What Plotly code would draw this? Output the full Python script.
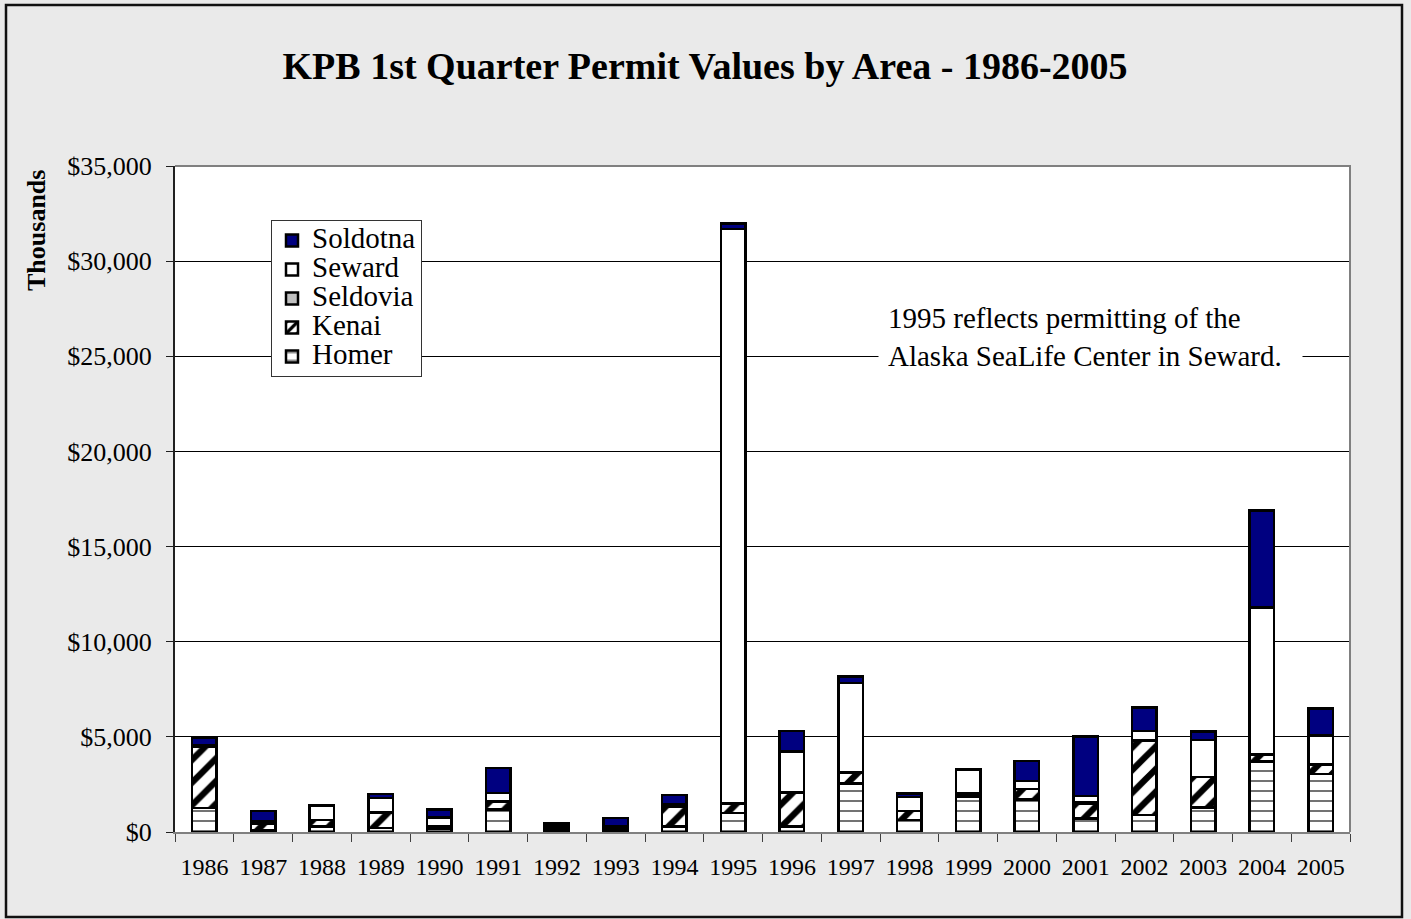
import plotly.graph_objects as go

# values in $ thousands
years = [str(y) for y in range(1986, 2006)]
homer = [1250, 100, 280, 200, 150, 1190, 100, 120, 280, 1000, 280, 2560, 630, 1860, 1720, 720, 890, 1300, 3700, 3050]
kenai = [3220, 350, 350, 820, 150, 400, 100, 50, 1050, 470, 1790, 550, 470, 170, 530, 790, 3910, 1580, 350, 470]
seldovia = [20, 10, 10, 20, 10, 20, 10, 10, 20, 30, 30, 20, 10, 20, 20, 30, 30, 20, 30, 20]
seward = [50, 100, 740, 760, 460, 440, 80, 100, 100, 30200, 2130, 4700, 720, 1200, 400, 350, 470, 1930, 7720, 1530]
soldotna = [430, 550, 30, 200, 420, 1320, 150, 450, 490, 280, 1090, 350, 200, 50, 1050, 3120, 1230, 440, 5090, 1420]

FONT = "Liberation Serif"
W, H = 1411, 919
L, R, T, B = 175, 61, 166, 87
PW, PH = W - L - R, H - T - B


def px_x(x):
    return (x - L) / PW


def px_y(y):
    return (H - B - y) / PH


fig = go.Figure()

series = [
    ("Homer", homer, dict(color="white", pattern=dict(shape="-", fgcolor="black", bgcolor="white", size=10, solidity=0.2, fgopacity=0.55))),
    ("Kenai", kenai, dict(color="white", pattern=dict(shape="/", fgcolor="black", bgcolor="white", size=16, solidity=0.4, fgopacity=1))),
    ("Seldovia", seldovia, dict(color="#C0C0C0")),
    ("Seward", seward, dict(color="white")),
    ("Soldotna", soldotna, dict(color="#000080")),
]

for name, vals, mk in series:
    mk["line"] = dict(color="black", width=2.5)
    fig.add_trace(go.Bar(
        x=years, y=vals,
        name='<span style="font-size:29px">' + name + '</span>',
        marker=mk,
    ))

fig.update_layout(
    width=W, height=H,
    margin=dict(l=L, r=R, t=T, b=B),
    barmode="stack",
    bargap=0.58,
    paper_bgcolor="#EAEAEA",
    plot_bgcolor="white",
    font=dict(family=FONT, color="black", size=26),
    title=dict(
        text="<b>KPB 1st Quarter Permit Values by Area - 1986-2005</b>",
        font=dict(family=FONT, size=38, color="black"),
        x=0.4997, xref="container", xanchor="center",
        y=1 - 66 / H, yref="container", yanchor="middle",
    ),
    legend=dict(
        x=px_x(271), y=px_y(220), xanchor="left", yanchor="top",
        traceorder="reversed",
        bgcolor="white", bordercolor="#333333", borderwidth=1,
        font=dict(family=FONT, size=20, color="black"),
    ),
    showlegend=True,
)

fig.update_xaxes(
    type="category", tickangle=0,
    showline=True, linecolor="#808080", linewidth=2,
    ticks="outside", tickson="boundaries", ticklen=8, tickcolor="#404040", tickwidth=1,
    ticklabelstandoff=12,
    tickfont=dict(family=FONT, size=24),
    showgrid=False,
)

fig.update_yaxes(
    range=[0, 35000], dtick=5000,
    tickprefix="$", tickformat=",d",
    showline=True, linecolor="#202020", linewidth=2,
    ticks="outside", ticklen=7, tickcolor="#202020", tickwidth=1,
    ticklabelstandoff=9,
    tickfont=dict(family=FONT, size=26),
    showgrid=True, gridcolor="black", gridwidth=1,
    zeroline=False,
)

# plot area border (top/right) and outer chart border
fig.add_shape(type="path", xref="paper", yref="paper",
              path="M 0 1 L 1 1 L 1 0", line=dict(color="#808080", width=2))
fig.add_shape(type="rect", xref="paper", yref="paper",
              x0=px_x(6), x1=px_x(1402), y0=px_y(917), y1=px_y(5),
              line=dict(color="#111111", width=2.5))

# y axis title sits high on the axis
fig.add_annotation(
    text="<b>Thousands</b>", textangle=-90,
    xref="paper", yref="paper", x=px_x(37), y=px_y(231),
    xanchor="center", yanchor="middle",
    showarrow=False, font=dict(family=FONT, size=26, color="black"),
)

# note about the 1995 spike
fig.add_annotation(
    text="1995 reflects permitting of the<br>Alaska SeaLife Center in Seward.",
    xref="paper", yref="paper", x=px_x(878), y=px_y(337),
    xanchor="left", yanchor="middle", align="left",
    width=405, borderpad=9, bgcolor="white",
    showarrow=False, font=dict(family=FONT, size=29, color="black"),
)

fig.write_html("out.html", config={"displayModeBar": False},
               post_script="document.body.style.margin='0px';")
